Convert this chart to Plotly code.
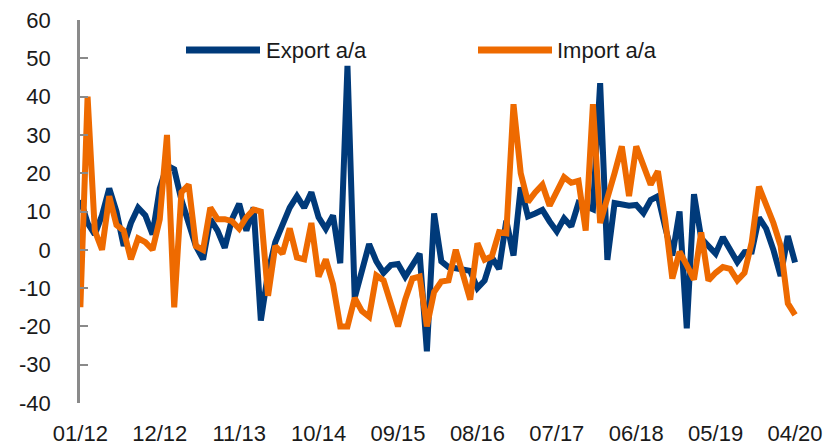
import plotly.graph_objects as go
import pandas as pd

months = [d.strftime("%m/%y") for d in pd.date_range("2012-01-01", periods=100, freq="MS")]
tick_labels = ["01/12", "12/12", "11/13", "10/14", "09/15", "08/16", "07/17", "06/18", "05/19", "04/20"]
y_ticks = [-40, -30, -20, -10, 0, 10, 20, 30, 40, 50, 60]
y_tick_text = ["-40", "-30", "-20", "-10", "0", "10", "20", "30", "40", "50", "60"]

export_aa = [13, 7, 4, 9, 16, 10, 1, 7, 11, 9,
             4, 16, 22, 21, 13, 7, 1, -2.5, 8, 5,
             0.5, 8, 12, 5, 11, -18.5, -6, 2, 7, 11,
             14, 11, 15, 8.5, 5.5, 9, -3.5, 48, -12.5, -5,
             1.5, -3, -6, -4, -3.7, -7, -4, -1, -26.5, 9.5,
             -3, -4.5, -4.8, -5.2, -5.5, -10, -8, -2, -5, 7.6,
             -1.5, 16.3, 8.7, 9.5, 10.4, 7.4, 4.8, 8.2, 6.1, 12.2,
             11.5, 10.6, 43.5, -2.6, 12.2, 11.8, 11.5, 11.7, 9.6, 13,
             14, 6, -1.5, 10, -20.5, 14.5, 3, 1, -1, 3.3,
             0, -3.2, -0.6, -0.5, 8.4, 5.5, 0, -6.8, 3.6, -3.3]

import_aa = [-15, 40, 5, 0, 14, 6.5, 5, -2.5, 3, 2,
             0, 8, 30, -15, 15, 17, 1, 0, 11, 8,
             8, 7.5, 5.5, 8.5, 10.5, 10, -12, 1, -1, 5.6,
             -2, -2.5, 7, -7, -2.5, -9, -20, -20, -12.6, -16,
             -17.5, -6.7, -8, -14, -20, -13, -7.5, -7, -20, -11,
             -8.3, -8, 0, -6.5, -13, 1.7, -2.6, -1.7, 4.6, 4.3,
             38, 20, 12.5, 15, 17, 11.5, 15, 19, 17.5, 18,
             5, 38, 7, 13, 20, 27, 14, 27, 22, 17,
             20.5, 8, -7.5, -0.5, -4, -7.8, 4.5, -8, -6, -4.5,
             -5, -8, -6, 2, 16.5, 12, 7, 1, -14, -17]

NAVY = "#003A7A"
ORANGE = "#EE6A00"
AXIS = "#8A8A8A"
FONT = "Liberation Sans, Arial, sans-serif"
TXT = "#1a1a1a"
FS = 22

OFF = 8  # default page margin of the browser
SW, SH = 832, 446                 # screen size
PL, PR, PT, PB = 80, 803, 20, 403.3  # plot area in screen pixels
W, H = SW - OFF, SH - OFF
L, T = PL - OFF, PT - OFF
R = W - (PR - OFF)
B = H - (PB - OFF)
plot_w = PR - PL
plot_h = PB - PT
XR = [-0.05, 100.1]

fig = go.Figure()
fig.add_trace(go.Scatter(x=months, y=export_aa, mode="lines", name="Export a/a",
                         line=dict(color=NAVY, width=6), showlegend=False))
fig.add_trace(go.Scatter(x=months, y=import_aa, mode="lines", name="Import a/a",
                         line=dict(color=ORANGE, width=6), showlegend=False))

tickpos = [months.index(t) for t in tick_labels]

def px_x(px):
    return (px - PL) / plot_w

def px_y(py):
    return (PB - py) / plot_h

shapes = []
annotations = []
for (x0, x1, tx, label, col) in [(186, 260, 264, "Export a/a", NAVY), (478, 552, 555, "Import a/a", ORANGE)]:
    shapes.append(dict(type="line", xref="paper", yref="paper", x0=px_x(x0), x1=px_x(x1),
                       y0=px_y(50), y1=px_y(50), line=dict(color=col, width=7)))
    annotations.append(dict(xref="paper", yref="paper", x=px_x(tx), y=px_y(51), text=label,
                            showarrow=False, xanchor="left", yanchor="middle",
                            font=dict(family=FONT, size=FS, color=TXT)))

fig.update_layout(
    width=W, height=H,
    margin=dict(l=L, r=R, t=T, b=B, autoexpand=False),
    plot_bgcolor="white", paper_bgcolor="white",
    showlegend=False,
    shapes=shapes, annotations=annotations,
    xaxis=dict(type="category", range=XR, tickmode="array", tickvals=tick_labels, ticktext=tick_labels,
               showline=False, showgrid=False, zeroline=False, ticks="", automargin=False,
               ticklabelstandoff=15, ticklabeloverflow="allow",
               tickfont=dict(family=FONT, size=FS, color=TXT)),
    xaxis2=dict(overlaying="x", anchor="free", position=0.4, side="bottom", type="linear",
                range=XR, showline=True, linecolor=AXIS, linewidth=2.5, automargin=False,
                ticks="inside", ticklen=7, tickwidth=2, tickcolor=AXIS,
                tickmode="array", tickvals=tickpos, showticklabels=False,
                showgrid=False, zeroline=False),
    yaxis=dict(range=[-40, 60], tickmode="array", tickvals=y_ticks, ticktext=y_tick_text,
               showline=True, linecolor=AXIS, linewidth=2.5, automargin=False,
               ticks="inside", ticklen=8, tickwidth=2, tickcolor=AXIS,
               ticklabelstandoff=22, ticklabeloverflow="allow",
               showgrid=False, zeroline=False,
               tickfont=dict(family=FONT, size=FS, color=TXT)),
)

fig.write_html("out.html")
